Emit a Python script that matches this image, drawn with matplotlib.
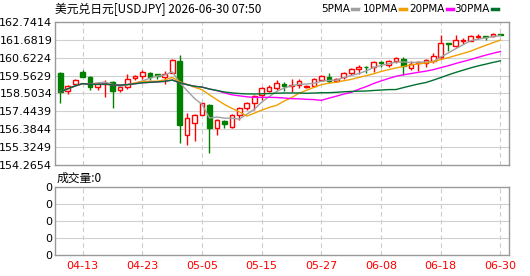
import numpy as np
import pandas as pd
from matplotlib import pyplot as plt

plt.rcParams['font.family'] = ['DejaVu Sans']

# данные свечей (04-08 ... 06-30, только будни)
dates = pd.bdate_range('2026-04-08', '2026-06-30').strftime('%m-%d').tolist()
opens = [159.70, 158.67, 159.04, 159.76, 159.46, 158.87, 159.06, 159.20, 158.71, 158.87,
         159.44, 159.54, 159.70, 159.64, 159.46, 159.74, 160.43, 156.04, 156.77, 157.23,
         157.82, 156.44, 156.85, 156.53, 157.23, 157.62, 157.92, 158.41, 158.67, 158.81,
         159.06, 158.95, 159.01, 158.87, 158.95, 159.30, 159.46, 159.26, 159.46, 159.70,
         159.95, 160.09, 160.09, 160.37, 160.19, 160.43, 160.55, 159.99, 160.29, 160.33,
         160.43, 160.68, 161.47, 161.34, 161.63, 161.63, 161.87, 161.89, 161.91, 162.03]
highs = [159.80, 159.01, 159.36, 159.89, 159.54, 159.20, 159.30, 159.24, 159.01, 159.66,
         159.60, 159.89, 159.80, 159.66, 159.84, 160.53, 160.78, 157.33, 157.29, 157.96,
         157.88, 157.01, 156.93, 157.27, 157.72, 157.98, 158.41, 158.87, 159.01, 159.30,
         159.20, 159.34, 159.34, 159.01, 159.40, 159.60, 159.74, 159.40, 159.80, 159.99,
         160.19, 160.11, 160.43, 160.43, 160.49, 160.65, 160.65, 160.43, 160.43, 160.53,
         160.88, 161.97, 161.51, 161.97, 161.77, 161.95, 162.01, 161.93, 162.07, 162.03]
lows = [157.92, 158.47, 158.99, 159.46, 158.71, 158.71, 158.31, 157.62, 158.61, 158.75,
        159.30, 159.34, 159.30, 159.34, 159.04, 159.70, 155.59, 155.45, 155.70, 157.20,
        154.99, 156.06, 156.47, 156.47, 156.93, 157.52, 157.52, 158.12, 158.61, 158.71,
        158.67, 158.61, 158.81, 158.81, 158.87, 159.26, 159.14, 159.20, 159.34, 159.60,
        159.66, 159.70, 159.80, 160.09, 160.09, 160.33, 159.60, 159.89, 159.85, 160.09,
        160.29, 160.53, 161.04, 161.28, 161.42, 161.59, 161.71, 161.67, 161.87, 161.99]
closes = [158.61, 158.95, 159.30, 159.50, 158.87, 159.06, 159.14, 158.67, 158.87, 159.36,
          159.54, 159.80, 159.46, 159.54, 159.66, 160.49, 156.63, 157.03, 157.23, 157.92,
          156.44, 156.93, 156.69, 157.23, 157.62, 157.92, 158.37, 158.81, 158.87, 159.14,
          158.95, 159.01, 159.26, 158.97, 159.36, 159.54, 159.26, 159.36, 159.74, 159.95,
          160.09, 160.07, 160.39, 160.33, 160.43, 160.59, 160.13, 160.23, 160.39, 160.49,
          160.72, 161.47, 161.44, 161.67, 161.67, 161.91, 161.91, 161.85, 162.03, 161.99]
volume = [0] * len(dates)

ma_periods = [5, 10, 20, 30]
ma_colors = ['#a0a0a0', '#f0a000', '#ff00ff', '#007030']
yticks = [154.2654, 155.3249, 156.3844, 157.4439, 158.5034, 159.5629, 160.6224, 161.6819, 162.7414]
xlabels = ['04-13', '04-23', '05-05', '05-15', '05-27', '06-08', '06-18', '06-30']

x = np.arange(len(dates))
o, h, l, c = map(np.array, (opens, highs, lows, closes))
up = c >= o
red, green = '#ff0000', '#008000'
frame = '#999999'

fig = plt.figure(figsize=(5.30, 2.76), dpi=100)
ax = fig.add_axes([55 / 530, 1 - 165 / 276, 454.3 / 530, 143 / 276])
axv = fig.add_axes([55 / 530, 1 - 255.3 / 276, 454.3 / 530, 68.6 / 276])
xt = [dates.index(d) for d in xlabels]

# сетка и рамка
for a in (ax, axv):
    a.set_xlim(-0.71, 60.19)
    for s in a.spines.values():
        s.set_color(frame)
        s.set_linewidth(1.0)
    a.set_xticks(xt)
    for xi in xt:
        a.axvline(xi, color='#cccccc', lw=0.8, ls=(0, (4, 3)), zorder=0)
    a.tick_params(length=0, labelsize=8, pad=2)

ax.set_ylim(yticks[0], yticks[-1])
ax.set_yticks(yticks)
ax.set_yticklabels(['%.4f' % v for v in yticks])
for v in yticks[1:-1]:
    ax.axhline(v, color='#d0d0d0', lw=0.8, zorder=0)
ax.set_xticklabels([])

# свечи
ax.vlines(x[up], l[up], h[up], color=red, lw=1, zorder=2)
ax.vlines(x[~up], l[~up], h[~up], color=green, lw=1, zorder=2)
ax.bar(x[up], c[up] - o[up], bottom=o[up], width=0.62, facecolor='white',
       edgecolor=red, lw=1, zorder=3)
ax.bar(x[~up], np.maximum(o[~up] - c[~up], 0.02), bottom=c[~up], width=0.62,
       facecolor=green, edgecolor=green, lw=1, zorder=3)

# скользящие средние
cs = pd.Series(closes)
for p, col in zip(ma_periods, ma_colors):
    ax.plot(x, cs.rolling(p, min_periods=1).mean(), color=col, lw=1, zorder=4)

# объём
axv.bar(x, volume, width=0.62, color=red)
axv.set_ylim(0, 4)
axv.set_yticks([0, 1, 2, 3, 4])
axv.set_yticklabels(['0'] * 5)
for v in [1, 2, 3]:
    axv.axhline(v, color='#d0d0d0', lw=0.8, zorder=0)
axv.set_xticklabels(xlabels, color=red)
axv.tick_params(axis='x', pad=4)

# подписи
fig.text(55 / 530, 1 - 9 / 276, '美元兑日元[USDJPY] 2026-06-30 07:50', fontsize=8.5,
         family=['Noto Sans CJK SC', 'DejaVu Sans'], va='center', ha='left')
fig.text(57 / 530, 1 - 178 / 276, '成交量:0', fontsize=8.5,
         family=['Noto Sans CJK SC', 'DejaVu Sans'], va='center', ha='left')

# легенда: текст и короткая цветная чёрточка после него
dash_x = [352, 400, 447, 492]
for p, col, dx in zip(ma_periods, ma_colors, dash_x):
    fig.text((dx - 2) / 530, 1 - 9 / 276, '%dPMA' % p, fontsize=7.5, va='center', ha='right')
    fig.add_artist(plt.Line2D([dx / 530, (dx + 6) / 530], [1 - 8.5 / 276] * 2,
                              color=col, lw=2.5))

fig.savefig('out.png', dpi=100)
